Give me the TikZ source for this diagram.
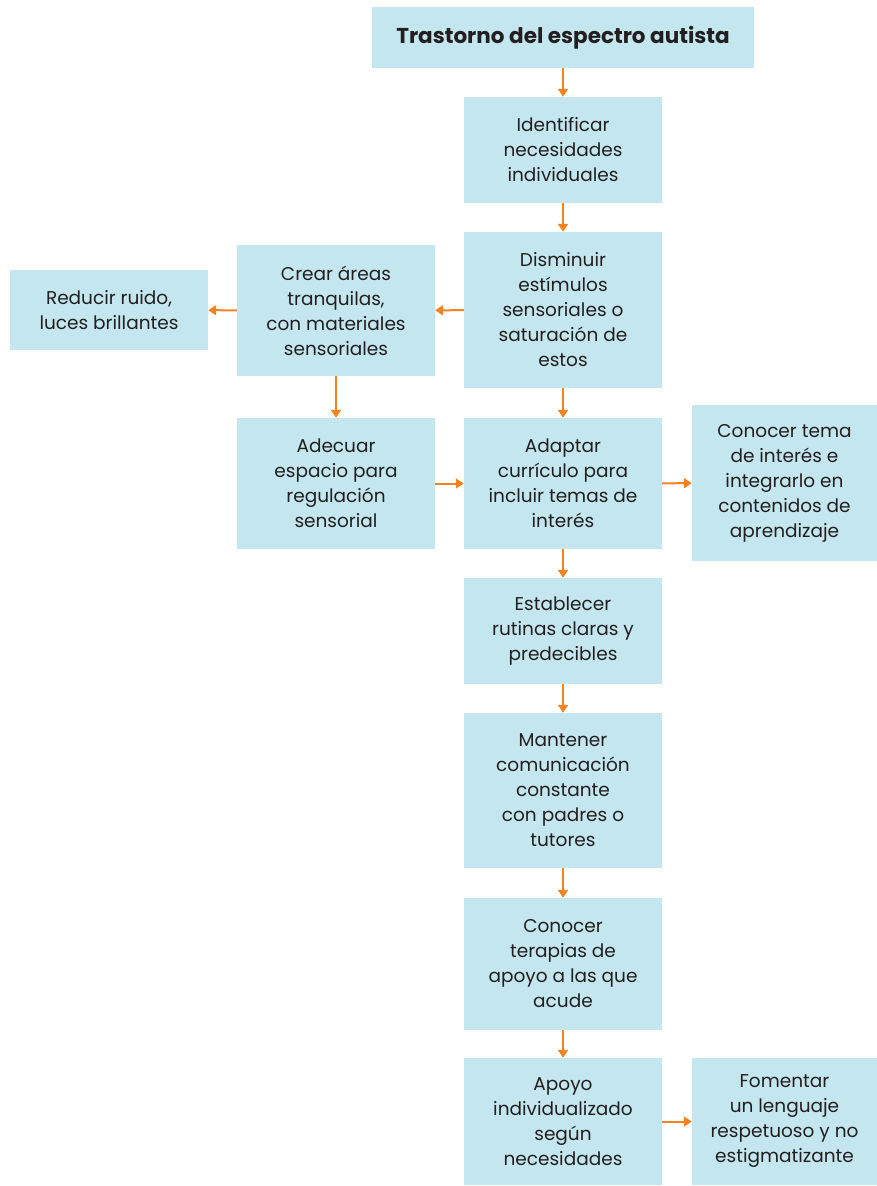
\documentclass[tikz,border=0pt]{standalone}
\usepackage{fontspec}
\setmainfont{Poppins}
\usepackage{tikz}
\usetikzlibrary{arrows.meta}
\definecolor{boxblue}{HTML}{C3E6EF}
\definecolor{arrorange}{HTML}{F58220}
\definecolor{txtgray}{HTML}{231F20}
\tikzset{b/.style={fill=boxblue, draw=none, align=center, inner sep=0pt, text=txtgray,
    minimum width=198pt, font=\fontsize{18.5}{25}\selectfont}}
\tikzset{a/.style={draw=arrorange, line width=2pt, -{Triangle[length=8pt,width=10pt,fill=arrorange]}}}

\begin{document}
\begin{tikzpicture}[x=1pt,y=-1pt]
          \useasboundingbox (0,0) rectangle (877,1186);
          \node[b, minimum width=382pt, minimum height=61pt, font=\fontsize{21.5}{24}\selectfont\bfseries] (TEA) at (563,37.5) {Trastorno del espectro autista};
          \node[b, minimum height=106pt] (IDN) at (563,150) {Identificar\\necesidades\\individuales};
          \node[b, minimum height=156pt] (DES) at (563,310) {Disminuir\\estímulos\\sensoriales o\\saturación de\\estos};
          \node[b, minimum height=131pt] (CAT) at (336,310.5) {Crear áreas\\tranquilas,\\con materiales\\sensoriales};
          \node[b, minimum height=80pt] (RRL) at (109,310) {Reducir ruido,\\luces brillantes};
          \node[b, minimum height=131pt] (AER) at (336,483.5) {Adecuar\\espacio para\\regulación\\sensorial};
          \node[b, minimum height=131pt] (ACI) at (563,483.5) {Adaptar\\currículo para\\incluir temas de\\interés};
          \node[b, minimum width=185pt, minimum height=156pt] (CTI) at (784.5,483) {Conocer tema\\de interés e\\integrarlo en\\contenidos de\\aprendizaje};
          \node[b, minimum height=106pt] (ERC) at (563,631) {Establecer\\rutinas claras y\\predecibles};
          \node[b, minimum height=155pt] (MCP) at (563,790.5) {Mantener\\comunicación\\constante\\con padres o\\tutores};
          \node[b, minimum height=132pt] (CTA) at (563,964) {Conocer\\terapias de\\apoyo a las que\\acude};
          \node[b, minimum height=127pt] (AIN) at (563,1121.5) {Apoyo\\individualizado\\según\\necesidades};
          \node[b, minimum width=185pt, minimum height=127pt] (FLR) at (784.5,1121.5) {Fomentar\\un lenguaje\\respetuoso y no\\estigmatizante};
          % flechas
          \draw[a] (TEA) -- (IDN);
          \draw[a] (IDN) -- (DES);
          \draw[a] (DES) -- (CAT);
          \draw[a] (CAT) -- (RRL);
          \draw[a] (CAT) -- (AER);
          \draw[a] (DES) -- (ACI);
          \draw[a] (AER) -- (ACI);
          \draw[a] (ACI) -- (CTI);
          \draw[a] (ACI) -- (ERC);
          \draw[a] (ERC) -- (MCP);
          \draw[a] (MCP) -- (CTA);
          \draw[a] (CTA) -- (AIN);
          \draw[a] (AIN) -- (FLR);
        \end{tikzpicture}
\end{document}
